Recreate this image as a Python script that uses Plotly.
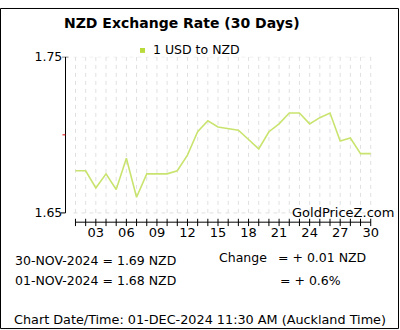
import plotly.graph_objects as go

W, H = 400, 330

# ---- data ----
days = list(range(1, 31))
rates = [1.677, 1.677, 1.666, 1.675, 1.665, 1.685, 1.660, 1.675, 1.675, 1.675,
         1.677, 1.687, 1.702, 1.709, 1.705, 1.704, 1.703, 1.697, 1.691, 1.702,
         1.707, 1.714, 1.714, 1.707, 1.711, 1.714, 1.696, 1.698, 1.688, 1.688]
x_tick_labels = [f"{d:02d}" if d % 3 == 0 else "" for d in days]
y_ticks = [1.65, 1.75]
y_tick_labels = ["1.65", "1.75"]
y_mid = 1.70
series_name = "1 USD to NZD"
title_text = "NZD Exchange Rate (30 Days)"
latest_line = "30-NOV-2024 = 1.69 NZD"
first_line = "01-NOV-2024 = 1.68 NZD"
change_label = "Change"
change_abs = "= + 0.01 NZD"
change_pct = "= + 0.6%"
footer = "Chart Date/Time: 01-DEC-2024 11:30 AM (Auckland Time)"
watermark = "GoldPriceZ.com"

FONT = "DejaVu Sans"
LINE_COLOR = "#c9e46e"
MARK_COLOR = "#b8da3a"
GRID_COLOR = "#e0e0e0"


def px(x):
    return x / W


def py(y):
    return 1 - y / H


# plot area in pixels
X_LEFT, X_RIGHT = 65.3, 380.9
Y_TOP, Y_BOT = 50, 220
y_min = 1.65 - (Y_BOT - 210) / 160 * 0.1

fig = go.Figure()
fig.add_trace(go.Scatter(x=days, y=rates, mode="lines", name=series_name,
                         line=dict(color=LINE_COLOR, width=1.6),
                         showlegend=False, hoverinfo="skip"))

shapes = []
# vertical dashed gridlines
for d in days:
    shapes.append(dict(type="line", xref="x", yref="y", x0=d, x1=d,
                       y0=y_ticks[0], y1=y_ticks[-1], layer="below",
                       line=dict(color=GRID_COLOR, width=1, dash="4px,4px")))
# horizontal dashed gridlines
for v in y_ticks:
    shapes.append(dict(type="line", xref="x", yref="y", x0=days[0] - 0.2, x1=days[-1],
                       y0=v, y1=v, layer="below",
                       line=dict(color=GRID_COLOR, width=1, dash="4px,4px")))
# y axis line
shapes.append(dict(type="line", xref="paper", yref="y", x0=px(65.5), x1=px(65.5),
                   y0=y_ticks[0], y1=y_ticks[-1], line=dict(color="black", width=1)))
# y ticks
shapes.append(dict(type="line", xref="paper", yref="y", x0=px(62), x1=px(68.5),
                   y0=y_ticks[-1], y1=y_ticks[-1], line=dict(color="black", width=1)))
shapes.append(dict(type="line", xref="paper", yref="y", x0=px(61), x1=px(65.5),
                   y0=y_ticks[0], y1=y_ticks[0], line=dict(color="black", width=1)))
shapes.append(dict(type="line", xref="paper", yref="y", x0=px(62.5), x1=px(65.5),
                   y0=y_mid, y1=y_mid, line=dict(color="#e00000", width=1)))
# x axis line
x_axis_y = py(219.5)
shapes.append(dict(type="line", xref="x", yref="paper", x0=days[0], x1=days[-1],
                   y0=x_axis_y, y1=x_axis_y, line=dict(color="black", width=1)))
for d in days:
    shapes.append(dict(type="line", xref="x", yref="paper", x0=d, x1=d,
                       y0=py(216), y1=py(223.5), line=dict(color="black", width=1)))
# legend marker
shapes.append(dict(type="rect", xref="paper", yref="paper", x0=px(140), x1=px(145),
                   y0=py(46), y1=py(41), line=dict(width=0), fillcolor=MARK_COLOR))
# border
shapes.append(dict(type="rect", xref="paper", yref="paper", x0=px(0.5), x1=px(398.5),
                   y0=py(328.5), y1=py(0.5), line=dict(color="black", width=1)))


def ann(text, x, y, size=12, xanchor="left", bold=False):
    return dict(text=f"<b>{text}</b>" if bold else text, x=px(x), y=py(y),
                xref="paper", yref="paper", xanchor=xanchor, yanchor="middle",
                showarrow=False, font=dict(family=FONT, size=size, color="black"))


annotations = [
    ann(title_text, 182, 15, size=14, xanchor="center", bold=True),
    ann(series_name, 151, 43, size=12.5),
    ann(watermark, 290, 210, size=13),
    ann(latest_line, 13, 259, size=12.5),
    ann(first_line, 13, 279, size=12.5),
    ann(change_label, 217, 256, size=12.5),
    ann(change_abs, 276, 256, size=12.5),
    ann(change_pct, 278, 279, size=12.5),
    ann(footer, 12, 319, size=12.8),
]

fig.update_layout(
    width=W, height=H,
    margin=dict(l=0, r=0, t=0, b=0),
    paper_bgcolor="white", plot_bgcolor="white",
    showlegend=False,
    font=dict(family=FONT, size=12, color="black"),
    xaxis=dict(domain=[px(X_LEFT), px(X_RIGHT)], range=[0, 31],
               tickvals=days, ticktext=x_tick_labels, ticks="",
               showgrid=False, zeroline=False, showline=False,
               tickfont=dict(family=FONT, size=13), ticklabelstandoff=0),
    yaxis=dict(domain=[py(Y_BOT), py(Y_TOP)], range=[y_min, 1.75],
               tickvals=y_ticks, ticktext=y_tick_labels, ticks="",
               showgrid=False, zeroline=False, showline=False,
               tickfont=dict(family=FONT, size=12.5), ticklabelstandoff=2),
    shapes=shapes,
    annotations=annotations,
)

fig.write_html("out.html")
